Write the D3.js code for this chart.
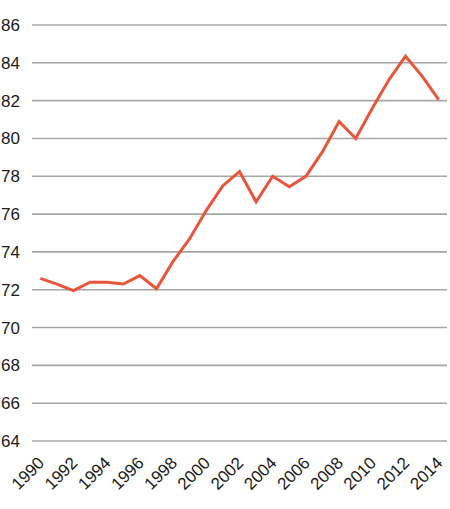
<!DOCTYPE html>
<html>
<head>
<meta charset="utf-8"/>
<script src="https://d3js.org/d3.v7.min.js"></script>
<style>
  body { margin: 0; background: #fff; }
  text { font-family: "Liberation Sans", Arial, sans-serif; fill: #1a1a1a; }
</style>
</head>
<body>
<svg id="chart" width="450" height="509"></svg>
<script>
// years on the x axis
let years = [1990, 1991, 1992, 1993, 1994, 1995, 1996, 1997, 1998, 1999, 2000, 2001, 2002,
             2003, 2004, 2005, 2006, 2007, 2008, 2009, 2010, 2011, 2012, 2013, 2014];
// series values
let values = [72.6, 72.3, 71.95, 72.4, 72.4, 72.3, 72.75, 72.05, 73.5, 74.7, 76.2, 77.5, 78.25,
              76.65, 78.0, 77.45, 78.0, 79.3, 80.9, 80.0, 81.6, 83.1, 84.35, 83.3, 82.05];
let yTicks = [64, 66, 68, 70, 72, 74, 76, 78, 80, 82, 84, 86];
let xLabels = [1990, 1992, 1994, 1996, 1998, 2000, 2002, 2004, 2006, 2008, 2010, 2012, 2014];

let svg = d3.select("svg#chart");
let xScale = d3.scalePoint().domain(years).range([32, 447]).padding(0.5);
let yScale = d3.scaleLinear().domain([64, 86]).range([441, 25]);

// horizontal grid lines + y labels
yTicks.forEach(function(t) {
    svg.append("line")
        .attr("x1", 32)
        .attr("x2", 447)
        .attr("y1", yScale(t))
        .attr("y2", yScale(t))
        .style("stroke", "#a6a6a6")
        .style("stroke-width", 1.6);
    svg.append("text")
        .text(t)
        .attr("x", 20)
        .attr("y", yScale(t) + 6)
        .attr("text-anchor", "end")
        .style("font-size", "17px");
});

// x labels, rotated
xLabels.forEach(function(yr) {
    let x = xScale(yr) + 5;
    let y = 464;
    svg.append("text")
        .text(yr)
        .attr("text-anchor", "end")
        .attr("transform", "translate(" + x + "," + y + ") rotate(-45)")
        .style("font-size", "17px");
});

// the line
let line = d3.line()
    .x(function(d, i) { return xScale(years[i]); })
    .y(function(d) { return yScale(d); });

svg.append("path")
    .datum(values)
    .attr("d", line)
    .style("fill", "none")
    .style("stroke", "#e9553b")
    .style("stroke-width", 3)
    .style("stroke-linejoin", "miter");
</script>
</body>
</html>
